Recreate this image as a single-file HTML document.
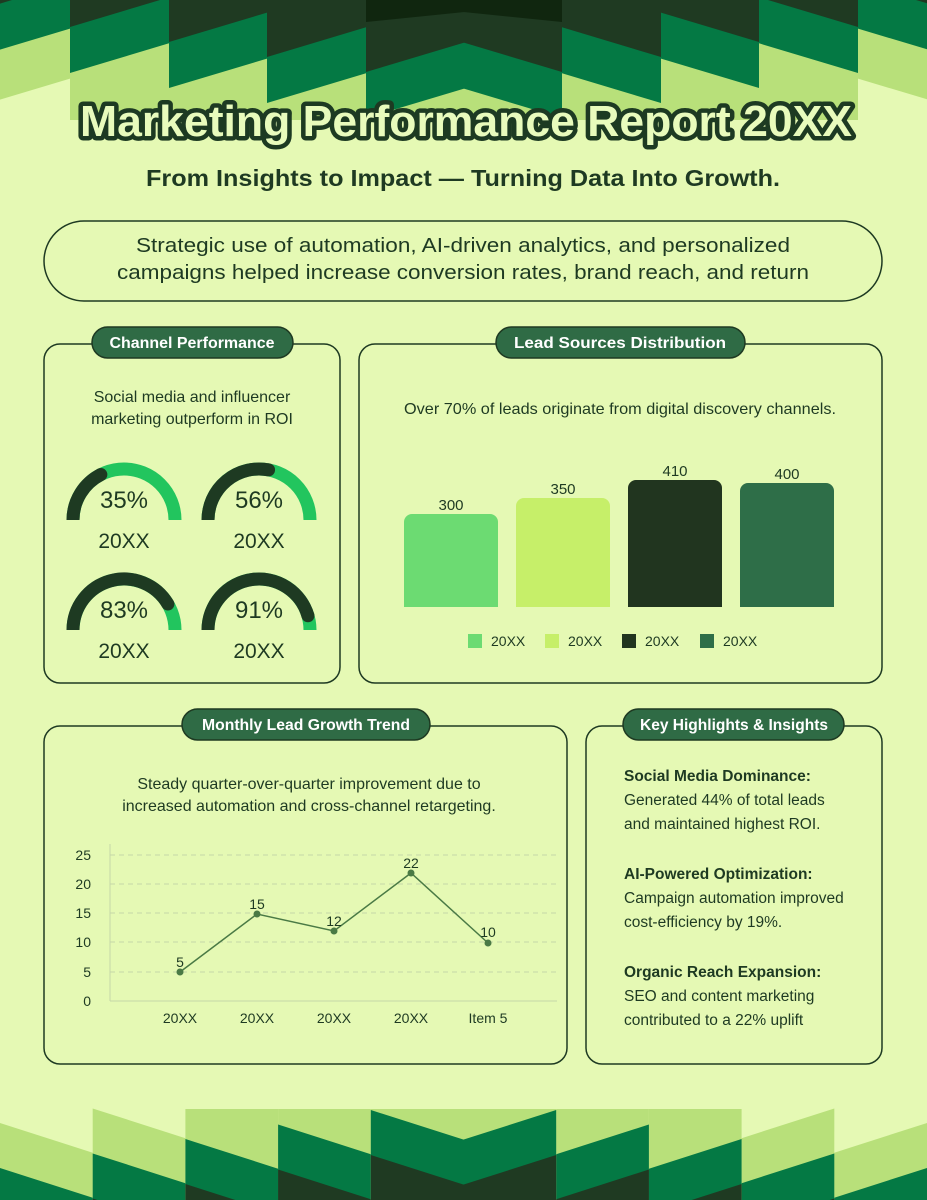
<!DOCTYPE html>
<html><head><meta charset="utf-8">
<style>
html,body{margin:0;padding:0;}
body{width:927px;height:1200px;background:#e5f9b4;position:relative;overflow:hidden;font-family:"Liberation Sans",sans-serif;color:#1e3a22;}
svg{position:absolute;left:0;top:0;}
</style></head>
<body>
<svg id="s" width="927" height="1200" viewBox="0 0 927 1200" xmlns="http://www.w3.org/2000/svg">
<rect width="927" height="1200" fill="#e5f9b4"/>
<g id="hdr"></g>
<g id="ftr"></g>

<text x="466" y="136" text-anchor="middle" font-size="44" font-weight="bold" fill="#e8fbbc" stroke="#1d3a22" stroke-width="9" stroke-linejoin="round" paint-order="stroke" textLength="772" lengthAdjust="spacingAndGlyphs">Marketing Performance Report 20XX</text>
<text x="463" y="186" text-anchor="middle" font-size="23" font-weight="bold" fill="#1e3a22" textLength="634" lengthAdjust="spacingAndGlyphs">From Insights to Impact — Turning Data Into Growth.</text>

<rect x="44" y="221" width="838" height="80" rx="40" fill="#e5f9b4" stroke="#1e3a22" stroke-width="1.5"/>
<text x="463" y="252" text-anchor="middle" font-size="20" fill="#1e3a22" textLength="654" lengthAdjust="spacingAndGlyphs">Strategic use of automation, AI-driven analytics, and personalized</text>
<text x="463" y="279" text-anchor="middle" font-size="20" fill="#1e3a22" textLength="692" lengthAdjust="spacingAndGlyphs">campaigns helped increase conversion rates, brand reach, and return</text>

<g fill="#e5f9b4" stroke="#1e3a22" stroke-width="1.5">
<rect x="44" y="344" width="296" height="339" rx="16"/>
<rect x="359" y="344" width="523" height="339" rx="16"/>
<rect x="44" y="726" width="523" height="338" rx="16"/>
<rect x="586" y="726" width="296" height="338" rx="16"/>
</g>
<g fill="#2f6b45" stroke="#1e3a22" stroke-width="1.5">
<rect x="92" y="327" width="201" height="31" rx="15.5"/>
<rect x="496" y="327" width="249" height="31" rx="15.5"/>
<rect x="182" y="709" width="248" height="31" rx="15.5"/>
<rect x="623" y="709" width="221" height="31" rx="15.5"/>
</g>
<g fill="#ffffff" font-size="16" font-weight="bold" text-anchor="middle">
<text x="192" y="348" textLength="165" lengthAdjust="spacingAndGlyphs">Channel Performance</text>
<text x="620" y="348" textLength="212" lengthAdjust="spacingAndGlyphs">Lead Sources Distribution</text>
<text x="306" y="730" textLength="208" lengthAdjust="spacingAndGlyphs">Monthly Lead Growth Trend</text>
<text x="734" y="730" textLength="188" lengthAdjust="spacingAndGlyphs">Key Highlights &amp; Insights</text>
</g>

<g font-size="16" fill="#1e3a22" text-anchor="middle">
<text x="192" y="402">Social media and influencer</text>
<text x="192" y="424">marketing outperform in ROI</text>
</g>
<g id="gauges"></g>

<text x="620" y="414" text-anchor="middle" font-size="16" fill="#1e3a22" textLength="432" lengthAdjust="spacingAndGlyphs">Over 70% of leads originate from digital discovery channels.</text>
<path d="M404,607 V522 a8,8 0 0 1 8,-8 H490 a8,8 0 0 1 8,8 V607 Z" fill="#6cdb72"/>
<path d="M516,607 V506 a8,8 0 0 1 8,-8 H602 a8,8 0 0 1 8,8 V607 Z" fill="#c6ef69"/>
<path d="M628,607 V488 a8,8 0 0 1 8,-8 H714 a8,8 0 0 1 8,8 V607 Z" fill="#21351f"/>
<path d="M740,607 V491 a8,8 0 0 1 8,-8 H826 a8,8 0 0 1 8,8 V607 Z" fill="#2e6e48"/>
<g font-size="15" fill="#1e3a22" text-anchor="middle">
<text x="451" y="510">300</text><text x="563" y="494">350</text><text x="675" y="476">410</text><text x="787" y="479">400</text>
</g>
<rect x="468" y="634" width="14" height="14" fill="#6cdb72"/>
<rect x="545" y="634" width="14" height="14" fill="#c6ef69"/>
<rect x="622" y="634" width="14" height="14" fill="#21351f"/>
<rect x="700" y="634" width="14" height="14" fill="#2e6e48"/>
<g font-size="14" fill="#1e3a22">
<text x="491" y="646">20XX</text><text x="568" y="646">20XX</text><text x="645" y="646">20XX</text><text x="723" y="646">20XX</text>
</g>

<g font-size="16" fill="#1e3a22" text-anchor="middle">
<text x="309" y="789">Steady quarter-over-quarter improvement due to</text>
<text x="309" y="811">increased automation and cross-channel retargeting.</text>
</g>
<g stroke="#c5d6a8" stroke-dasharray="5,4" stroke-width="1">
<line x1="110" y1="855" x2="557" y2="855"/><line x1="110" y1="884" x2="557" y2="884"/>
<line x1="110" y1="913" x2="557" y2="913"/><line x1="110" y1="942" x2="557" y2="942"/>
<line x1="110" y1="972" x2="557" y2="972"/>
</g>
<line x1="110" y1="844" x2="110" y2="1001" stroke="#c5d6a8"/>
<line x1="110" y1="1001" x2="557" y2="1001" stroke="#c5d6a8"/>
<g font-size="14" fill="#1e3a22" text-anchor="end">
<text x="91" y="860">25</text><text x="91" y="889">20</text><text x="91" y="918">15</text><text x="91" y="947">10</text><text x="91" y="977">5</text><text x="91" y="1006">0</text>
</g>
<polyline points="180,972 257,914 334,931 411,873 488,943" fill="none" stroke="#4a7a45" stroke-width="1.5"/>
<g fill="#4a7a45">
<circle cx="180" cy="972" r="3.5"/><circle cx="257" cy="914" r="3.5"/><circle cx="334" cy="931" r="3.5"/><circle cx="411" cy="873" r="3.5"/><circle cx="488" cy="943" r="3.5"/>
</g>
<g font-size="14" fill="#1e3a22" text-anchor="middle">
<text x="180" y="967">5</text><text x="257" y="909">15</text><text x="334" y="926">12</text><text x="411" y="868">22</text><text x="488" y="937">10</text>
<text x="180" y="1023">20XX</text><text x="257" y="1023">20XX</text><text x="334" y="1023">20XX</text><text x="411" y="1023">20XX</text><text x="488" y="1023">Item 5</text>
</g>

<g font-size="15.5" fill="#1e3a22">
<text x="624" y="781" font-weight="bold">Social Media Dominance:</text>
<text x="624" y="805">Generated 44% of total leads</text>
<text x="624" y="829">and maintained highest ROI.</text>
<text x="624" y="879" font-weight="bold">AI-Powered Optimization:</text>
<text x="624" y="903">Campaign automation improved</text>
<text x="624" y="927">cost-efficiency by 19%.</text>
<text x="624" y="977" font-weight="bold">Organic Reach Expansion:</text>
<text x="624" y="1001">SEO and content marketing</text>
<text x="624" y="1025">contributed to a 22% uplift</text>
</g>
</svg>
<script>
(function(){
var NS="http://www.w3.org/2000/svg";
function el(tag,attrs,parent){var e=document.createElementNS(NS,tag);for(var k in attrs)e.setAttribute(k,attrs[k]);parent.appendChild(e);return e;}
var DK="#1f3a22", GR="#047944", LT="#b8e07a";
var hdr=document.getElementById("hdr"), ftr=document.getElementById("ftr");
function poly(parent,pts,fill){el("polygon",{points:pts.map(function(p){return p[0].toFixed(1)+","+p[1].toFixed(1)}).join(" "),fill:fill},parent);}
function both(parent,pts,fill,M){poly(parent,pts,fill);poly(parent,pts.map(function(p){return [M-p[0],p[1]];}),fill);}
var HX=[[0,70,-28],[70,169,70],[169,267,169],[267,366,267],[366,464.5,366]];
for(var c=0;c<5;c++){
  var a=HX[c][0], b=HX[c][1], xl=HX[c][2];
  var D=function(x){return 27+15*(c-1)-0.3*(x-xl);};
  if(c==0) both(hdr,[[a,0],[b,0],[b,D(b)+96],[a,D(a)+96]],LT,928);
  else both(hdr,[[a,0],[b,0],[b,120],[a,120]],LT,928);
  both(hdr,[[a,0],[b,0],[b,D(b)+46],[a,D(a)+46]],GR,928);
  both(hdr,[[a,0],[b,0],[b,D(b)],[a,D(a)]],DK,928);
  if(c==4) both(hdr,[[a,0],[b,0],[b,12],[a,22]],"#10260f",928);
}
var W=92.7;
for(var c=0;c<5;c++){
  var x0=c*W, x1=(c+1)*W+(c==4?0.5:0);
  var F=function(x,off){return 1168-14.5*c+0.32*(x-x0)+off;};
  if(c<2) both(ftr,[[x0,F(x0,-45)],[x1,F(x1,-45)],[x1,1200],[x0,1200]],LT,927);
  else both(ftr,[[x0,1109],[x1,1109],[x1,1200],[x0,1200]],LT,927);
  both(ftr,[[x0,F(x0,0)],[x1,F(x1,0)],[x1,1200],[x0,1200]],GR,927);
  both(ftr,[[x0,F(x0,45)],[x1,F(x1,45)],[x1,1200],[x0,1200]],DK,927);
}
var g=document.getElementById("gauges");
var data=[[124,520,35],[259,520,56],[124,630,83],[259,630,91]];
var r=51, sw=13;
data.forEach(function(d){
  var cx=d[0],cy=d[1],p=d[2]/100;
  el("path",{d:"M"+(cx-r)+","+cy+" A"+r+","+r+" 0 0 1 "+(cx+r)+","+cy,fill:"none",stroke:"#22c55e","stroke-width":sw},g);
  var a=Math.PI*(1-p);
  var ex=cx+r*Math.cos(a), ey=cy-r*Math.sin(a);
  el("path",{d:"M"+(cx-r)+","+cy+" A"+r+","+r+" 0 0 1 "+ex.toFixed(2)+","+ey.toFixed(2),fill:"none",stroke:"#1e3a22","stroke-width":sw},g);
  el("circle",{cx:ex,cy:ey,r:sw/2,fill:"#1e3a22"},g);
  var t=el("text",{x:cx,y:cy-12,"text-anchor":"middle","font-size":"24",fill:"#1e3a22"},g);t.textContent=d[2]+"%";
  var t2=el("text",{x:cx,y:cy+28,"text-anchor":"middle","font-size":"21",fill:"#1e3a22"},g);t2.textContent="20XX";
});
})();
</script>
</body></html>
